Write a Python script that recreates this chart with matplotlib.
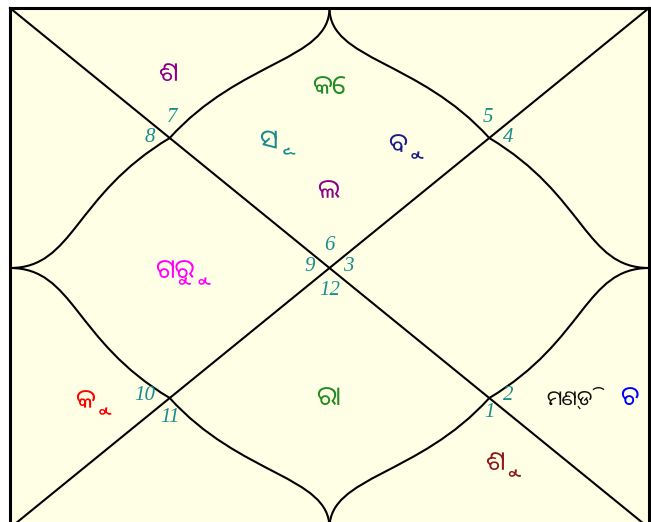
import numpy as np
import matplotlib
matplotlib.use("Agg")
import matplotlib.pyplot as plt
from matplotlib.path import Path
from matplotlib.patches import PathPatch, Rectangle
from matplotlib import font_manager

# --- chart data: sign number and occupants per house (counter-clockwise from top)
house_signs = [6, 7, 8, 9, 10, 11, 12, 1, 2, 3, 4, 5]
house_planets = [
    ["କେ", "ସୂ", "ବୁ", "ଲ"],
    ["ଶ"],
    [],
    ["ଗୁରୁ"],
    ["କୁ"],
    [],
    ["ରା"],
    ["ଶୁ"],
    ["ମଣ୍ଡି", "ଚ"],
    [],
    [],
    [],
]
planet_colors = {
    "କେ": "#228b22", "ସୂ": "#1a8c8c", "ବୁ": "#1c1c8c", "ଲ": "#8b008b",
    "ଶ": "#8b008b", "ଗୁରୁ": "#ff00ff", "କୁ": "#ff0000", "ରା": "#228b22",
    "ଶୁ": "#8b1a1a", "ମଣ୍ଡି": "#111111", "ଚ": "#0000ff",
}

# --- layout (box coords, 0..1 across, 0..1 down)
sign_pos = [(0.50, 0.456), (0.254, 0.21), (0.219, 0.25), (0.469, 0.497),
            (0.211, 0.746), (0.25, 0.788), (0.50, 0.544), (0.75, 0.777),
            (0.78, 0.746), (0.53, 0.497), (0.78, 0.25), (0.748, 0.21)]
planet_slots = [
    [(0.50, 0.152), (0.405, 0.256), (0.606, 0.264), (0.498, 0.352)],
    [(0.247, 0.127)],
    [(0.12, 0.50)],
    [(0.258, 0.506)],
    [(0.118, 0.756)],
    [(0.25, 0.88)],
    [(0.498, 0.75)],
    [(0.759, 0.875)],
    [(0.876, 0.75), (0.969, 0.75)],
    [(0.75, 0.50)],
    [(0.88, 0.25)],
    [(0.75, 0.12)],
]


def pick_font(ch):
    # find an installed family with Odia glyphs, preferring Noto / Lohit
    try:
        from fontTools.ttLib import TTFont
    except ImportError:
        return "DejaVu Sans"
    found = []
    for f in font_manager.fontManager.ttflist:
        try:
            tt = TTFont(f.fname, fontNumber=0, lazy=True)
            if ord(ch) in tt.getBestCmap():
                found.append(f.name)
        except Exception:
            pass
    if not found:
        return "DejaVu Sans"
    found.sort(key=lambda n: (0 if "Noto Sans" in n else 1 if "Lohit" in n else 2, n))
    return found[0]


odia_font = pick_font("ଶ")

W, H = 639, 520
fig = plt.figure(figsize=(6.51, 5.22), dpi=100, facecolor="white")
ax = fig.add_axes([0, 0, 1, 1])
ax.set_xlim(-10 / W, 641 / W)
ax.set_ylim(514 / H, -8 / H)
ax.axis("off")

ax.add_patch(Rectangle((0, 0), 1, 1, facecolor="#ffffe6", edgecolor="black",
                       lw=2.2, zorder=0))

# diagonals
ax.plot([0, 1], [0, 1], color="black", lw=1.5)
ax.plot([1, 0], [0, 1], color="black", lw=1.5)

# curved inner diamond: each half from an edge cusp to a diagonal point
alpha, beta, gamma = 0.10, 0.11, 0.15
cusps = [(0.5, 0.0), (0.0, 0.5), (0.5, 1.0), (1.0, 0.5)]
for i in range(4):
    c1 = np.array(cusps[i])
    c2 = np.array(cusps[(i + 1) % 4])
    m = (c1 + c2) / 2
    for ca in (c1, c2):
        # tangent at cusp points inward, perpendicular to its edge
        inward = np.array([0.5, 0.5]) - ca
        inward = inward / np.abs(inward).max()
        p1 = ca + alpha * inward
        back = np.sign(ca - m)
        p2 = m + np.where(inward != 0, gamma, beta) * back
        path = Path([ca, p1, p2, m],
                    [Path.MOVETO, Path.CURVE4, Path.CURVE4, Path.CURVE4])
        ax.add_patch(PathPatch(path, facecolor="none", edgecolor="black", lw=1.5))

for s, (x, y) in zip(house_signs, sign_pos):
    ax.text(x, y, str(s), color="#1a8c8c", fontsize=15, style="italic",
            family="Liberation Serif", ha="center", va="center")

for planets, slots in zip(house_planets, planet_slots):
    for p, (x, y) in zip(planets, slots):
        size = 15 if len(p) > 4 else 19
        ax.text(x, y, p, color=planet_colors[p], fontsize=size,
                family=[odia_font, "DejaVu Sans"], ha="center", va="center")

fig.savefig("out.png", dpi=100, facecolor="white")
